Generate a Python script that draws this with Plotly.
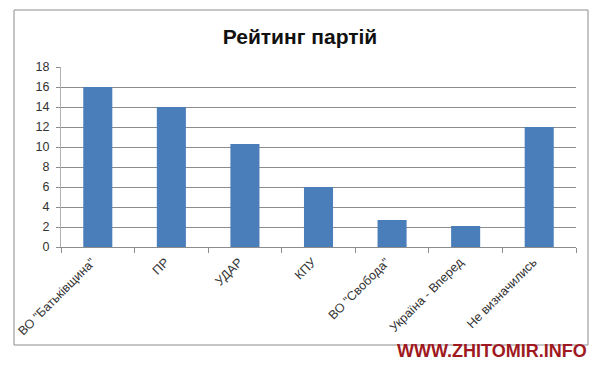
import plotly.graph_objects as go

categories = ['ВО "Батьківщина"', 'ПР', 'УДАР', 'КПУ', 'ВО "Свобода"', 'Україна - Вперед', 'Не визначились']
values = [16, 14, 10.3, 6, 2.7, 2.1, 12]
y_ticks = [0, 2, 4, 6, 8, 10, 12, 14, 16, 18]

L, R, T, B = 61, 24, 67, 119
W = 600 - L - R
H = 366 - T - B

def px(x):
    return (x - L) / W

def py(y):
    return (366 - B - y) / H

fig = go.Figure(go.Bar(x=categories, y=values, marker=dict(color="#4a7ebb", line=dict(width=0))))

fig.update_layout(
    width=600, height=366,
    margin=dict(l=L, r=R, t=T, b=B, autoexpand=False),
    paper_bgcolor="white", plot_bgcolor="white",
    bargap=0.605,
    showlegend=False,
    font=dict(family="Liberation Sans, Arial, sans-serif", size=12, color="#333333"),
    title=dict(text="<b>Рейтинг партій</b>", x=0.5, xref="container", xanchor="center",
               y=1 - 37 / 366, yanchor="middle",
               font=dict(family="Liberation Sans, Arial, sans-serif", size=21, color="#111111")),
    xaxis=dict(tickangle=-45, showline=True, linecolor="#8c8c8c", linewidth=1,
               ticks="outside", ticklen=5, tickcolor="#8c8c8c", tickson="boundaries",
               showgrid=False, automargin=False, ticklabelshift=-6, ticklabelstandoff=2,
               tickfont=dict(size=12.5, color="#333333")),
    yaxis=dict(range=[0, 18], tickvals=y_ticks, showgrid=True, gridcolor="#8c8c8c", gridwidth=1,
               showline=True, linecolor="#b0b0b0", ticks="outside", ticklen=4, tickcolor="#8c8c8c",
               ticklabelstandoff=4,
               zeroline=False, automargin=False, tickfont=dict(size=12.5, color="#333333")),
    shapes=[dict(type="rect", xref="paper", yref="paper",
                 x0=px(14), x1=px(588), y0=py(345), y1=py(10),
                 line=dict(color="#8c8c8c", width=1), fillcolor="rgba(0,0,0,0)", layer="below")],
    annotations=[dict(text="<b>WWW.ZHITOMIR.INFO</b>", xref="paper", yref="paper",
                      x=px(589), y=py(351), xanchor="right", yanchor="middle", showarrow=False,
                      font=dict(family="Liberation Sans Narrow, Arial Narrow, sans-serif", size=18,
                                color="#a01820"))],
)

fig.write_html("out.html")
